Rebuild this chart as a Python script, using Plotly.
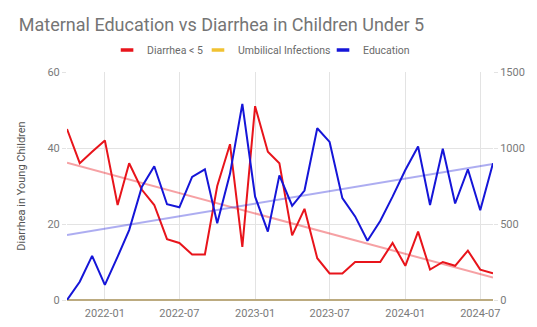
import numpy as np
import pandas as pd
import plotly.graph_objects as go

# Monthly observations, Oct 2021 - Aug 2024
months = pd.date_range("2021-10-01", "2024-08-01", freq="MS")

diarrhea_under5 = [45, 36, 39, 42, 25, 36, 29, 25, 16, 15, 12, 12,
                   30, 41, 14, 51, 39, 36, 17, 24, 11, 7, 7, 10,
                   10, 10, 15, 9, 18, 8, 10, 9, 13, 8, 7]
umbilical_infections = [0] * 35
education = [0, 120, 290, 100, 285, 460, 745, 880, 630, 610, 810, 860,
             505, 830, 1290, 680, 450, 820, 620, 720, 1130, 1040, 670, 550,
             390, 520, 680, 855, 1010, 625, 995, 635, 860, 590, 900]

RED = "#e8141b"
YELLOW = "#f1c232"
BLUE = "#1515d8"
BASELINE = "#bcab80"   # yellow series sitting on the grey baseline
FONT = "Roboto"

# Linear trend lines fitted against time
t = (months - months[0]).days.values.astype(float)
red_fit = np.polyval(np.polyfit(t, diarrhea_under5, 1), t)
blue_fit = np.polyval(np.polyfit(t, education, 1), t)

fig = go.Figure()

fig.add_trace(go.Scatter(x=months, y=red_fit, mode="lines", showlegend=False,
                         line=dict(color="rgba(232,20,27,0.4)", width=2),
                         hoverinfo="skip"))
fig.add_trace(go.Scatter(x=months, y=blue_fit, mode="lines", showlegend=False,
                         yaxis="y2", line=dict(color="rgba(21,21,216,0.35)", width=2),
                         hoverinfo="skip"))

fig.add_trace(go.Scatter(x=months, y=diarrhea_under5, mode="lines", name="Diarrhea < 5",
                         showlegend=False, line=dict(color=RED, width=2)))
fig.add_trace(go.Scatter(x=months, y=umbilical_infections, mode="lines",
                         name="Umbilical Infections", showlegend=False,
                         line=dict(color=BASELINE, width=2)))
fig.add_trace(go.Scatter(x=months, y=education, mode="lines", name="Education",
                         showlegend=False, yaxis="y2", line=dict(color=BLUE, width=2)))

# Compact legend swatches, one small legend per series
legend_items = [("Diarrhea < 5", RED, "legend", 0.094),
                ("Umbilical Infections", YELLOW, "legend2", 0.3075),
                ("Education", BLUE, "legend3", 0.601)]
legend_layout = {}
for name, col, leg, xpos in legend_items:
    fig.add_trace(go.Scatter(x=[None], y=[None], mode="markers", name=name, legend=leg,
                             marker=dict(symbol="line-ew", size=9,
                                         line=dict(color=col, width=3.5))))
    legend_layout[leg] = dict(x=xpos, xanchor="left", y=1.0965, yanchor="middle",
                              orientation="h", itemwidth=30,
                              font=dict(family=FONT, size=10.5, color="#6a6a6a"),
                              bgcolor="rgba(0,0,0,0)")

grid = "#e3e3e3"
tick_font = dict(family=FONT, size=11, color="#7a7a7a")

fig.update_layout(
    width=537, height=327,
    margin=dict(l=67, r=44, t=72, b=27, autoexpand=False),
    paper_bgcolor="white", plot_bgcolor="white",
    font=dict(family=FONT),
    title=dict(text="Maternal Education vs Diarrhea in Children Under 5",
               x=0.035, xanchor="left", y=0.925, yanchor="middle",
               font=dict(family=FONT, size=18, color="#757575")),
    xaxis=dict(type="date", range=["2021-10-01", "2024-08-01"],
               tick0="2022-01-01", dtick="M6", tickformat="%Y-%m",
               showgrid=True, gridcolor=grid, gridwidth=1, automargin=False,
               tickfont=tick_font, ticks="outside", ticklen=3,
               tickcolor="rgba(0,0,0,0)", zeroline=False,
               showline=True, linecolor=BASELINE, linewidth=1),
    yaxis=dict(range=[0, 60], dtick=20, showgrid=True, gridcolor=grid,
               tickfont=tick_font, ticks="outside", ticklen=4, tickcolor=grid,
               zeroline=False, automargin=False,
               title=dict(text="Diarrhea in Young Children", standoff=19,
                          font=dict(family=FONT, size=11, color="#555555"))),
    yaxis2=dict(range=[0, 1500], dtick=500, overlaying="y", side="right",
                showgrid=False, zeroline=False, tickfont=tick_font, automargin=False,
                ticks="outside", ticklen=4, tickcolor=grid),
    **legend_layout,
)

fig.write_html("out.html")
